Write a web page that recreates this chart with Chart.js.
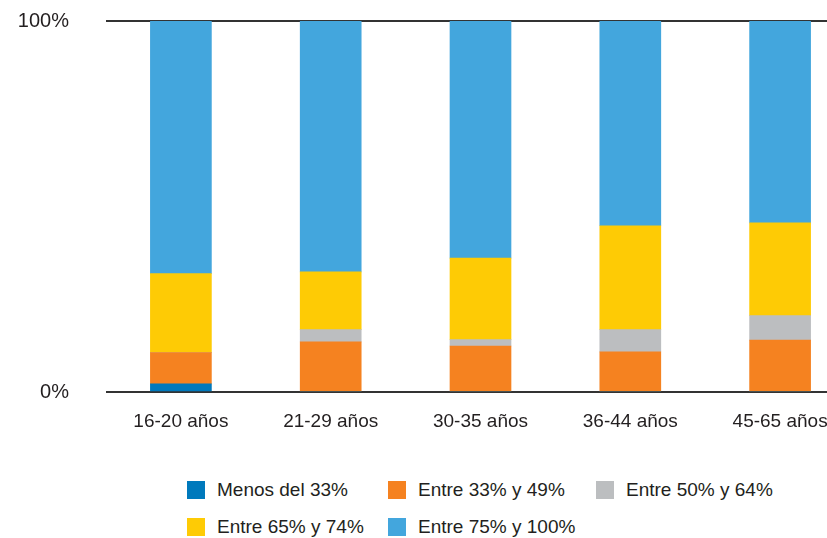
<!DOCTYPE html>
<html>
<head>
<meta charset="utf-8">
<script src="https://cdn.jsdelivr.net/npm/chart.js@4"></script>
<style>
  html, body { margin:0; padding:0; background:#fff; overflow:hidden; width:827px; height:538px; }
  #wrap { position:relative; width:827px; height:538px; overflow:hidden; }
  #chart { position:absolute; left:0; top:0; }
  #legend { position:absolute; left:187px; top:472px; display:grid; grid-template-columns:201px 208px auto; grid-auto-rows:36.5px;
    font-family:"Liberation Sans", Arial, sans-serif; font-size:19px; color:#231f20; }
  #legend .it { display:flex; align-items:center; white-space:nowrap; }
  #legend .sw { width:18px; height:18px; margin-right:12px; flex:none; }
</style>
</head>
<body>
<div id="wrap">
  <canvas id="chart" width="855" height="440"></canvas>
  <div id="legend"></div>
</div>
<script>
const categories = ['16-20 años', '21-29 años', '30-35 años', '36-44 años', '45-65 años'];
const seriesNames = ['Menos del 33%', 'Entre 33% y 49%', 'Entre 50% y 64%', 'Entre 65% y 74%', 'Entre 75% y 100%'];
const menos33 = [2.2, 0, 0, 0, 0];
const entre33_49 = [8.4, 13.5, 12.4, 10.8, 14.0];
const entre50_64 = [0, 3.3, 1.7, 6.0, 6.6];
const entre65_74 = [21.3, 15.6, 22.0, 28.0, 25.0];
const entre75_100 = [68.1, 67.6, 63.9, 55.2, 54.4];
const colors = ['#0079bc', '#f58220', '#bcbec0', '#fecb05', '#43a6dd'];
const yTicks = [0, 100];

const values = [menos33, entre33_49, entre50_64, entre65_74, entre75_100];
const font = '"Liberation Sans", Arial, sans-serif';

const chart = new Chart(document.getElementById('chart'), {
  type: 'bar',
  data: {
    labels: categories,
    datasets: values.map((v, i) => ({ label: seriesNames[i], data: v, backgroundColor: colors[i], borderWidth: 0, barThickness: 61 }))
  },
  options: {
    responsive: false,
    animation: false,
    layout: { padding: { top: 21, right: 0, left: 0, bottom: 0 } },
    plugins: { legend: { display: false }, tooltip: { enabled: false } },
    scales: {
      x: {
        stacked: true,
        grid: { display: false },
        border: { display: false },
        ticks: { color: '#231f20', font: { family: font, size: 19 }, padding: 10, maxRotation: 0 },
        afterFit: s => { s.height = 48; }
      },
      y: {
        stacked: true, min: 0, max: 100,
        afterBuildTicks: s => { s.ticks = yTicks.map(v => ({ value: v })); },
        // transparent tick marks push the labels left without adding top padding
        grid: { color: '#333', lineWidth: 2, drawTicks: true, tickLength: 37, tickColor: 'rgba(0,0,0,0)' },
        border: { display: false },
        ticks: { color: '#231f20', font: { family: font, size: 20 }, padding: 0, callback: v => v + '%' },
        afterFit: s => { s.width = 106; }
      }
    }
  }
});

// legend built from the chart's datasets
const leg = document.getElementById('legend');
chart.data.datasets.forEach(ds => {
  const it = document.createElement('div');
  it.className = 'it';
  it.innerHTML = `<span class="sw" style="background:${ds.backgroundColor}"></span><span>${ds.label}</span>`;
  leg.appendChild(it);
});
</script>
</body>
</html>
